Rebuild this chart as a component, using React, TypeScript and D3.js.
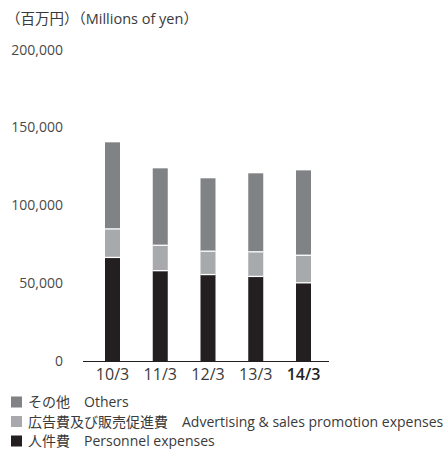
import { useEffect, useRef } from "react";
import * as d3 from "d3";

const categories = ["10/3", "11/3", "12/3", "13/3", "14/3"];
const personnel = [66500, 58000, 55500, 54300, 50200];
const advertising = [18300, 16300, 15000, 15800, 17700];
const others = [55600, 49400, 46800, 50400, 54500];
const yTicks = [0, 50000, 100000, 150000, 200000];

const seriesKeys = ["personnel", "advertising", "others"];
const seriesColors: Record<string, string> = {
  personnel: "#231f20",
  advertising: "#a7a9ac",
  others: "#808285",
};
const legendItems = [
  { key: "others", ja: "その他", en: "Others" },
  { key: "advertising", ja: "広告費及び販売促進費", en: "Advertising & sales promotion expenses" },
  { key: "personnel", ja: "人件費", en: "Personnel expenses" },
];

const FONT = "'Open Sans', 'Noto Sans CJK JP', sans-serif";

export default function App() {
  const ref = useRef<SVGSVGElement | null>(null);
  const width = 446;
  const height = 449;

  useEffect(() => {
    const svg = d3.select(ref.current!);
    svg.selectAll("*").remove();

    const rows = categories.map((c, i) => ({
      cat: c,
      personnel: personnel[i],
      advertising: advertising[i],
      others: others[i],
    }));
    const stacked = d3.stack<any>().keys(seriesKeys)(rows);

    const x = d3.scaleBand().domain(categories).range([85, 331]).paddingInner(0.686).paddingOuter(0.419);
    const y = d3.scaleLinear().domain([0, 200000]).range([361, 49.5]);

    // title
    svg
      .append("text")
      .attr("x", 6)
      .attr("y", 24)
      .style("font", `14.5px ${FONT}`)
      .style("fill", "#3a3a3a")
      .text("（百万円）（Millions of yen）");

    // y tick labels
    svg
      .append("g")
      .selectAll("text")
      .data(yTicks)
      .join("text")
      .attr("x", 63)
      .attr("y", (d) => y(d) + 5)
      .attr("text-anchor", "end")
      .style("font", `14px ${FONT}`)
      .style("fill", "#4a4a4a")
      .text((d) => d3.format(",")(d));

    // bars
    const layer = svg.append("g");
    stacked.forEach((s) => {
      layer
        .append("g")
        .attr("fill", seriesColors[s.key])
        .selectAll("rect")
        .data(s)
        .join("rect")
        .attr("x", (d: any) => x(d.data.cat)!)
        .attr("width", x.bandwidth())
        .attr("y", (d) => y(d[1]))
        .attr("height", (d) => y(d[0]) - y(d[1]));
    });
    // white separators between segments
    stacked.slice(0, 2).forEach((s) => {
      layer
        .append("g")
        .selectAll("line")
        .data(s)
        .join("line")
        .attr("x1", (d: any) => x(d.data.cat)!)
        .attr("x2", (d: any) => x(d.data.cat)! + x.bandwidth())
        .attr("y1", (d) => y(d[1]))
        .attr("y2", (d) => y(d[1]))
        .attr("stroke", "#fff")
        .attr("stroke-width", 1.3);
    });

    // baseline
    svg
      .append("line")
      .attr("x1", 83)
      .attr("x2", 329)
      .attr("y1", y(0) + 0.5)
      .attr("y2", y(0) + 0.5)
      .attr("stroke", "#231f20")
      .attr("stroke-width", 1);

    // category labels
    svg
      .append("g")
      .selectAll("text")
      .data(categories)
      .join("text")
      .attr("x", (d) => x(d)! + x.bandwidth() / 2)
      .attr("y", 380)
      .attr("text-anchor", "middle")
      .style("font", `16px ${FONT}`)
      .style("font-weight", (d, i) => (i === categories.length - 1 ? 600 : 400))
      .style("fill", (d, i) => (i === categories.length - 1 ? "#231f20" : "#3a3a3a"))
      .text((d) => d);

    // legend
    const lg = svg
      .append("g")
      .selectAll("g")
      .data(legendItems)
      .join("g")
      .attr("transform", (d, i) => `translate(0,${402 + i * 19.5})`);
    lg.append("rect")
      .attr("x", 11)
      .attr("y", -5.5)
      .attr("width", 11)
      .attr("height", 11)
      .attr("fill", (d) => seriesColors[d.key]);
    lg.append("text")
      .attr("x", 28)
      .attr("y", 5)
      .style("font", `14px ${FONT}`)
      .style("fill", "#3a3a3a")
      .text((d) => `${d.ja}\u3000${d.en}`);
  }, []);

  return (
    <svg
      ref={ref}
      width={width}
      height={height}
      style={{ position: "absolute", left: 0, top: 0, background: "#fff" }}
    />
  );
}
